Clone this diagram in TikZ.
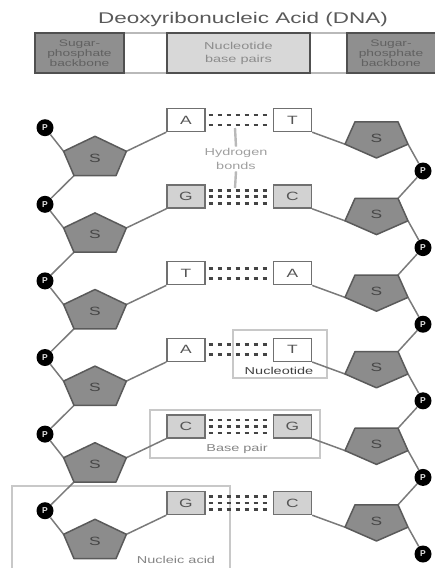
\documentclass[tikz,border=0pt]{standalone}
\usepackage{fontspec}
\setmainfont{Liberation Sans}
\newfontfamily\wide[FakeStretch=1.45]{Liberation Sans}
\usetikzlibrary{calc}
\definecolor{pentfill}{HTML}{8C8C8C}
\definecolor{pentline}{HTML}{5A5A5A}
\definecolor{strand}{HTML}{7A7A7A}
\definecolor{boxline}{HTML}{707070}
\definecolor{gcfill}{HTML}{D2D2D2}
\definecolor{bondcol}{HTML}{444444}
\definecolor{framecol}{HTML}{C8C8C8}
\definecolor{labcol}{HTML}{858585}
\definecolor{hdrdark}{HTML}{8F8F8F}
\definecolor{hdrlight}{HTML}{D8D8D8}
\definecolor{hdrline}{HTML}{505050}
\definecolor{lettercol}{HTML}{555555}
\begin{document}
\begin{tikzpicture}[x=1pt,y=-1pt,
  base/.style={draw=boxline, line width=1.4pt, minimum width=38pt, minimum height=23pt, inner sep=0pt, font=\wide\fontsize{12}{12}\selectfont, text=lettercol},
  atbase/.style={base, fill=white},
  gcbase/.style={base, fill=gcfill},
  phos/.style={circle, fill=black, minimum size=17pt, inner sep=0pt, font=\bfseries\fontsize{8.5}{8.5}\selectfont, text=white!80!gray},
  sugar/.style={fill=pentfill, draw=pentline, line width=1.5pt, line join=round},
  strandline/.style={draw=strand, line width=1.5pt},
  bond/.style={draw=bondcol, line width=2.8pt, dash pattern=on 4pt off 5pt},
  sletter/.style={font=\wide\fontsize{12}{12}\selectfont, text=black!72, inner sep=0pt},
  lab/.style={font=\wide\fontsize{10}{14}\selectfont, text=labcol, align=center},
  framebox/.style={draw=framecol, line width=2pt},
  hdrbox/.style={draw=hdrline, line width=1.5pt, minimum height=40pt, inner sep=0pt, align=center},
  hbline/.style={draw=gray!55, line width=2.4pt},
]
\useasboundingbox (0,0) rectangle (435,568);
\clip (0,0) rectangle (435,568);

% title
\node[font=\wide\fontsize{15.5}{15.5}\selectfont, text=black!65] (title) at (243,19) {Deoxyribonucleic Acid (DNA)};

% header bar
\draw[draw=gray!55, line width=1.2pt, fill=white] (35,33) rectangle (445,73);
\node[hdrbox, fill=hdrdark, minimum width=89pt, text=black!62, font=\wide\fontsize{9.5}{10}\selectfont] (hl) at (79.5,53) {Sugar-\\phosphate\\backbone};
\node[hdrbox, fill=hdrlight, minimum width=143pt, text=black!45, font=\wide\fontsize{10}{13}\selectfont] (hm) at (238.5,53) {Nucleotide\\base pairs};
\node[hdrbox, fill=hdrdark, minimum width=96pt, text=black!62, font=\wide\fontsize{9.5}{10}\selectfont] (hr) at (395,53) {\hspace*{-8pt}Sugar-\\\hspace*{-8pt}phosphate\\\hspace*{-8pt}backbone};

% overlay frames (behind)
\draw[framebox] (233,330) rectangle (327,378);
\draw[framebox] (150,410) rectangle (320,458);
\draw[framebox] (12,486) rectangle (230,590);

% nodes and coordinates
\foreach \i/\l/\r/\st/\offs in {0/A/T/atbase/{-5,5}, 1/G/C/gcbase/{-6.5,0,6.5}, 2/T/A/atbase/{-5,5}, 3/A/T/atbase/{-5,5}, 4/C/G/gcbase/{-6.5,0,6.5}, 5/G/C/gcbase/{-6.5,0,6.5}}{
  \pgfmathsetmacro\yy{120+76.6*\i}
  \pgfmathsetmacro\cl{\yy+38}
  \pgfmathsetmacro\cr{\yy+18}
  \node[\st] (L\i) at (186,\yy) {\l};
  \node[\st] (R\i) at (292.5,\yy) {\r};
  \node[phos] (PL\i) at (45,\yy+7.7) {P};
  \node[phos] (PR\i) at (423,\yy+51) {P};
  % left pentagon (point up)
  \coordinate (SLt\i) at (95,\cl-21.7);
  \coordinate (SLul\i) at (63.6,\cl-6.7);
  \coordinate (SLur\i) at (126.4,\cl-6.7);
  \coordinate (SLlr\i) at (116,\cl+17.6);
  \coordinate (SLll\i) at (74,\cl+17.6);
  % right pentagon (point down)
  \coordinate (SRb\i) at (376.5,\cr+20);
  \coordinate (SRr\i) at (408,\cr+6.2);
  \coordinate (SRtr\i) at (398,\cr-16.2);
  \coordinate (SRtl\i) at (355,\cr-16.2);
  \coordinate (SRl\i) at (345,\cr+6.2);
  \coordinate (SLc\i) at (95,\cl);
  \coordinate (SRc\i) at (376.5,\cr);
  % hydrogen bonds
  \foreach \o in \offs {
    \draw[bond] ([xshift=3pt,yshift=-\o pt]L\i.east) -- ([xshift=-4pt,yshift=-\o pt]R\i.west);
  }
}

% strand connectors
\foreach \i in {0,...,5}{
  \draw[strandline] (PL\i) -- (SLul\i);
  \draw[strandline] (SLur\i) -- (L\i.south west);
  \draw[strandline] (R\i.south east) -- (SRl\i);
  \draw[strandline] (SRr\i) -- (PR\i);
}
\foreach \i [evaluate=\i as \j using int(\i+1)] in {0,...,4}{
  \draw[strandline] (SLll\i) -- (PL\j);
  \draw[strandline] (PR\i) -- (SRtr\j);
}

% sugars
\foreach \i in {0,...,5}{
  \filldraw[sugar] (SLt\i) -- (SLur\i) -- (SLlr\i) -- (SLll\i) -- (SLul\i) -- cycle;
  \node[sletter] (SL\i) at (SLc\i) {S};
  \filldraw[sugar] (SRb\i) -- (SRr\i) -- (SRtr\i) -- (SRtl\i) -- (SRl\i) -- cycle;
  \node[sletter] (SR\i) at (SRc\i) {S};
}

% hydrogen bonds label
\coordinate (hbt) at (235,128);
\coordinate (hbb) at (235,188);
\node[lab, text=gray!75, inner sep=1.5pt] (hb) at (236,159) {Hydrogen\\bonds};
\draw[hbline] (hbt) -- (hb.north);
\draw[hbline] (hb.south) -- (hbb);

% frame labels
\node[lab, text=black!75] (nuc) at (279,371) {Nucleotide};
\node[lab] (bp) at (237,449) {Base pair};
\node[lab] (na) at (176,560) {Nucleic acid};
\end{tikzpicture}
\end{document}
